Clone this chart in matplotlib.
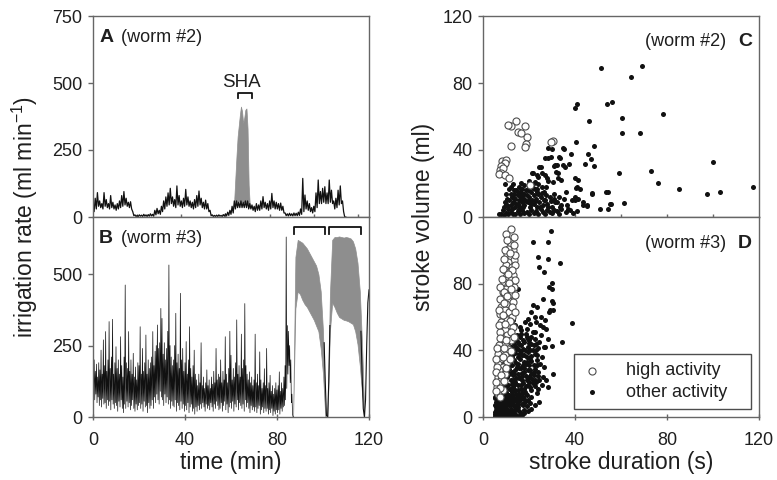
import numpy as np
import matplotlib
matplotlib.use('Agg')
from matplotlib import pyplot as plt

plt.rcParams['font.family'] = ['Liberation Sans', 'DejaVu Sans']
plt.rcParams['mathtext.fontset'] = 'custom'
plt.rcParams['mathtext.rm'] = 'Liberation Sans'
plt.rcParams['mathtext.it'] = 'Liberation Sans:italic'

# ---- A: worm #2, irrigation rate (ml/min), one value pair per minute
a_time = np.arange(0, 115, 1.0)
a_high = [40, 70, 91, 60, 50, 91, 65, 50, 80, 55,
          45, 50, 60, 80, 95, 70, 55, 57, 20, 8,
          6, 8, 7, 10, 8, 9, 12, 10, 25, 32,
          25, 40, 60, 75, 90, 107, 75, 65, 116, 80,
          60, 70, 103, 75, 60, 55, 65, 80, 97, 70,
          55, 63, 50, 25, 8, 6, 7, 8, 6, 9,
          12, 18, 25, 40, 60, 60, 55, 60, 55, 60,
          60, 50, 45, 40, 50, 45, 60, 76, 55, 50,
          60, 88, 60, 55, 50, 52, 40, 15, 12, 14,
          12, 15, 14, 18, 30, 144, 82, 60, 50, 35,
          40, 90, 138, 95, 107, 113, 90, 138, 100, 60,
          70, 100, 116, 60, 0]
a_low = [20, 30, 40, 35, 30, 40, 35, 30, 35, 30,
         25, 30, 35, 40, 45, 40, 35, 30, 5, 2,
         2, 3, 2, 3, 2, 3, 4, 3, 8, 12,
         10, 20, 30, 40, 45, 50, 40, 35, 45, 40,
         35, 40, 45, 40, 35, 30, 35, 40, 45, 35,
         30, 30, 20, 5, 2, 2, 2, 3, 2, 3,
         4, 6, 10, 15, 30, 35, 35, 35, 35, 35,
         30, 30, 25, 20, 25, 25, 30, 35, 30, 25,
         30, 35, 30, 30, 25, 25, 15, 5, 4, 5,
         4, 5, 5, 6, 10, 20, 30, 25, 20, 15,
         20, 35, 50, 50, 55, 50, 50, 55, 50, 30,
         35, 45, 50, 20, 0]
# SHA exposure (grey)
a_sha_time = [64, 64.5, 65, 65.5, 66, 66.5, 67, 67.5, 68, 68.5, 69, 69.5, 70, 70.5, 71]
a_sha_high = [70, 150, 230, 300, 340, 380, 412, 395, 350, 370, 400, 405, 330, 120, 45]
a_sha_low = [40, 45, 50, 55, 60, 60, 55, 60, 55, 55, 60, 55, 50, 40, 35]
sha_period = (65.7, 72.0)

# ---- B: worm #3, half-minute value pairs up to 87 min
b_time = np.arange(0, 87.5, 0.5)
b_high = [220, 200, 160, 185, 140, 190, 165, 234, 150, 270,
          180, 299, 160, 200, 334, 170, 210, 342, 150, 190,
          246, 170, 200, 150, 281, 180, 140, 210, 462, 190,
          170, 299, 160, 200, 150, 223, 140, 175, 130, 190,
          180, 316, 150, 240, 160, 190, 287, 150, 200, 170,
          190, 210, 299, 180, 230, 250, 322, 240, 260, 380,
          345, 220, 260, 200, 240, 300, 532, 250, 210, 180,
          200, 250, 363, 190, 220, 170, 433, 200, 240, 160,
          190, 264, 150, 200, 316, 170, 140, 180, 234, 150,
          130, 110, 150, 120, 260, 110, 140, 100, 120, 165,
          110, 130, 100, 140, 115, 160, 120, 240, 130, 150,
          140, 200, 120, 160, 130, 281, 150, 120, 170, 300,
          216, 130, 170, 140, 190, 340, 150, 180, 140, 290,
          170, 200, 397, 180, 150, 130, 158, 120, 140, 110,
          130, 290, 120, 150, 110, 228, 130, 100, 120, 169,
          110, 240, 100, 120, 146, 90, 110, 80, 100, 120,
          95, 110, 158, 90, 120, 100, 140, 180, 630, 320,
          300, 250, 200, 80, 0]
b_low = [90, 60, 80, 50, 70, 40, 60, 35, 65, 45,
         50, 30, 60, 40, 55, 25, 60, 45, 30, 50,
         40, 20, 55, 35, 60, 30, 15, 45, 30, 55,
         35, 50, 25, 40, 60, 30, 20, 45, 25, 40,
         50, 30, 45, 20, 55, 35, 40, 15, 50, 30,
         40, 60, 30, 70, 50, 80, 60, 45, 90, 70,
         60, 40, 80, 50, 70, 45, 60, 30, 55, 40,
         35, 60, 20, 50, 40, 25, 55, 30, 45, 20,
         40, 25, 50, 15, 35, 45, 20, 30, 10, 35,
         20, 40, 25, 45, 30, 50, 35, 20, 45, 30,
         40, 25, 50, 35, 20, 45, 30, 55, 40, 25,
         30, 50, 20, 40, 55, 25, 45, 15, 35, 50,
         30, 55, 20, 45, 35, 60, 25, 50, 40, 30,
         45, 20, 60, 35, 50, 30, 15, 40, 25, 35,
         20, 35, 15, 30, 40, 10, 25, 35, 15, 30,
         20, 30, 10, 25, 15, 30, 5, 20, 10, 25,
         15, 25, 10, 30, 20, 35, 40, 60, 100, 150,
         180, 120, 50, 10, 0]
# high activity bouts (grey envelopes)
b_hi1_time = np.arange(87, 102, 1.0)
b_hi1_top = [0, 560, 620, 615, 610, 600, 590, 575, 560, 545, 530, 500, 440, 300, 0]
b_hi1_bot = [0, 380, 440, 430, 410, 395, 385, 370, 355, 340, 320, 300, 240, 150, 0]
b_hi2_time = np.arange(102, 119, 1.0)
b_hi2_top = [0, 430, 620, 630, 630, 632, 630, 628, 630, 628, 625, 615, 590, 540, 440, 250, 0]
b_hi2_bot = [0, 300, 400, 385, 365, 350, 345, 340, 338, 335, 330, 325, 300, 255, 180, 80, 0]
b_gap_time = [100.5, 101, 101.5, 102, 102.5, 103]
b_gap_rate = [260, 120, 5, 0, 120, 320]
b_end_time = [116.5, 117, 117.5, 118, 118.5, 119, 119.5, 120]
b_end_rate = [300, 150, 30, 0, 60, 250, 400, 445]
high_periods = [(87.4, 100.7), (102.6, 116.4)]

# ---- C: worm #2 strokes (duration s, volume ml)
c_high = [(14.2, 57.3), (12.3, 54.5), (11, 55), (18.4, 54.5), (15.2, 50.5), (16.7, 50.3),
          (19.3, 48), (12.3, 42.4), (18.5, 43.5), (18.4, 41.6), (30.6, 45.6), (29.4, 45),
          (8.3, 33.6), (10.1, 34), (9.1, 31.8), (9.5, 32.5), (8.0, 30.5), (7.2, 28.1),
          (8.7, 29.1), (7.7, 26.1), (6.8, 25.5), (9.4, 25.1), (11.3, 23.1), (20.3, 19.1)]
c_other = [(51.2, 88.8), (64.2, 83.8), (69.3, 90.3), (41, 67.5), (40, 65), (54, 67.3),
           (56, 68.7), (46.2, 57.3), (60.3, 58.9), (78.4, 61.5), (60.3, 50), (68.3, 50),
           (48.3, 42.4), (40.3, 44.6), (45.5, 37.6), (47, 34.6), (44.3, 31.6), (48.3, 30.6),
           (38.3, 37.6), (37.5, 31.8), (59, 26), (73.2, 27.7), (76.3, 20.1), (85, 16.5),
           (97.2, 13.7), (103.2, 14.7), (100.1, 33), (117.2, 17.9), (61.3, 8.6), (55.2, 7.8),
           (54.2, 14.7), (47.2, 14.1), (54.5, 4.6), (45, 6.6), (43.6, 9.2), (40.3, 17.1),
           (41.2, 22.1), (40, 12), (38.6, 10), (36.4, 7.2), (33.5, 6.2), (35, 11), (31.3, 9),
           (32, 31), (33.2, 36), (34.9, 41), (28.4, 41), (29.7, 35.6), (30.7, 30.6),
           (32.8, 26), (30.3, 21), (27.7, 23), (24.5, 30), (25.5, 26), (23.3, 25), (21.2, 26),
           (27.4, 18), (25.5, 18), (23.3, 15), (21.9, 20), (35.2, 40.6), (30, 40.7),
           (26.8, 35.4), (28.3, 35.4), (33.3, 35.4), (25.4, 30), (31.2, 31), (34.8, 31),
           (35.5, 30), (31.9, 27), (21.7, 26), (23.9, 24), (26.8, 25), (28.3, 21.7),
           (32.6, 23), (34, 22), (39.9, 23), (40.7, 18), (42, 17), (39.9, 10), (41.3, 11),
           (43.5, 7), (45.4, 7.2), (47.5, 14), (53.6, 15), (55.5, 7.8), (50.7, 4.8),
           (7, 1.5), (8, 2), (9, 1), (10, 2.5), (11, 1.5), (12, 3), (13, 2), (14, 1.5),
           (15, 3.5), (16, 2), (17, 4), (18, 2.5), (19, 3), (20, 1.5), (21, 4), (22, 2.5),
           (23, 3.5), (24, 2), (25, 4.5), (26, 3), (27, 2), (28, 4), (29, 3), (30, 2.5),
           (31, 4), (32, 3.5), (33, 2), (34, 4.5), (36, 3), (38, 4), (39, 2.5), (41, 3.5),
           (9, 6), (10, 8), (11, 5), (11.5, 10), (12, 7), (12.5, 12), (13, 9), (13.5, 14),
           (14, 6), (14, 11), (14.5, 16), (15, 8), (15, 13), (15.5, 10), (16, 15), (16, 6),
           (16.5, 12), (17, 9), (17, 17), (17.5, 14), (18, 7), (18, 11), (18.5, 16),
           (19, 13), (19.5, 9), (20, 18), (20, 12), (20.5, 6), (21, 15), (21.5, 10), (22, 8),
           (22, 13), (22.5, 17), (23, 11), (23.5, 6), (24, 14), (24.5, 9), (25, 12), (26, 7),
           (26.5, 15), (27, 10), (28, 8), (29, 12), (30, 6), (31, 14), (32, 9), (33, 12),
           (34, 7), (36, 15), (37, 5), (9.5, 19.5), (13.3, 16), (16.4, 20.5), (12, 18),
           (10, 14),
           (8.5, 4), (9.5, 9), (10.5, 11), (11, 6.5), (12, 13.5), (12.8, 5), (13.6, 11.5),
           (14.4, 8), (15.2, 15), (15.8, 4.5), (16.8, 10.5), (17.4, 6), (18, 13.5), (18.8, 9.5),
           (19.4, 16), (20.2, 10), (21, 7.5), (21.8, 17.5), (22.8, 9.5), (23.6, 16.5),
           (24.6, 6), (25.5, 14.5), (26.4, 10), (27.4, 13), (28.4, 6), (29.6, 9.5), (30.8, 11),
           (13, 19.5), (17.8, 19), (19.8, 21.5), (22.4, 21), (11.2, 16.5), (15.6, 18),
           (24, 19.5)]

# ---- D: worm #3 strokes
d_high = [(12.3, 112.6), (11.6, 105), (12.3, 103), (13, 100), (11, 101), (10.5, 98), (12, 96),
          (13.5, 94), (11, 93), (10, 91), (12.5, 90), (9.5, 88), (11.5, 87), (13, 85), (10, 84),
          (12, 82), (9, 81), (11, 79), (13.5, 78), (10, 77), (8.5, 75), (12, 74), (9.5, 72),
          (11, 70), (13, 69), (10, 68), (8, 66), (9.5, 64), (11.5, 63), (7.5, 62), (12.5, 60),
          (9, 60), (10.5, 58), (8, 57), (11, 55), (13, 54), (9.5, 52), (7.5, 51), (10.5, 49),
          (8.5, 47), (12, 46), (9.5, 44), (7, 43), (11, 41), (8, 40), (6.5, 38), (9.5, 37),
          (7.5, 35), (10.5, 33), (6.5, 32), (8.5, 30), (7, 28), (9.5, 26), (6.5, 24), (8, 22),
          (7, 20), (6, 18), (8.5, 16), (6.5, 14),
          (9.8, 110), (13.3, 108), (10.3, 106), (13.6, 103), (9.6, 100), (13.9, 97), (9.2, 95),
          (11.8, 98.5), (14, 91), (8.8, 89), (12.8, 88), (10.8, 86), (8.3, 83), (13.8, 82),
          (11.5, 80.5), (7.6, 78), (12.2, 77), (9.2, 75), (13.9, 73), (7.6, 71), (10.5, 72.5),
          (12.6, 66), (9, 68.5), (7, 64), (13.8, 63), (8.5, 61.5), (11.8, 57.5), (6.8, 55),
          (9.5, 56), (12.2, 51), (7.2, 47.5), (10, 46.5), (13.3, 48), (6.2, 41.5), (9, 41.5),
          (12.2, 39.5), (5.8, 35), (8.5, 36), (11.8, 35), (6, 30), (9.8, 29.5), (5.6, 27),
          (8, 25.5), (5.8, 21), (9.2, 21.5), (7.5, 17.5), (5.6, 15.5), (7.2, 12)]
d_other = [(29.4, 111.6), (21.9, 104.8), (28.4, 104.8), (24.1, 96.2), (28.4, 94.6),
           (33.5, 92.2), (24.3, 89.8), (26.5, 87.2), (30.1, 80.6), (28.8, 77.8), (29.9, 76.6),
           (15.4, 76.6), (26.2, 70.6), (30, 69.8), (30.4, 68.2), (21.9, 67.2), (23.3, 66.2),
           (29.1, 64.2), (30.4, 64), (38.6, 56.6), (34.2, 44.8), (29.9, 42.6), (26.5, 42.2),
           (30.3, 25.6), (28.4, 18.2), (26.2, 24.2), (23.3, 14.2), (19.7, 10.2), (15.4, 4.2),
           (21, 63), (19.6, 59), (18.1, 57), (23.2, 57), (26.1, 54), (27.5, 53), (24.6, 55),
           (21.7, 51), (25.4, 49), (28.3, 47), (19.6, 47), (16.7, 50), (15.2, 45), (23.2, 44),
           (26.8, 42), (28.7, 63),
           (5, 2), (5.5, 4), (6, 1), (6.5, 3), (7, 5), (7.5, 2), (8, 4), (8.5, 1.5), (9, 3),
           (10, 2), (11, 4.5), (12, 1), (13, 3.5), (14, 2), (17, 1.5),
           (5, 7), (5.5, 9), (6, 6), (6.5, 8), (7, 10), (7.5, 7), (8, 9), (8.5, 6), (9, 8),
           (9.5, 10), (10, 6.5), (11, 9), (12, 7), (13, 9.5), (14, 6), (15, 8), (16, 10),
           (17.5, 7),
           (5, 12), (5.5, 14), (6, 11), (6.5, 13), (7, 15), (7.5, 12), (8, 14), (8.5, 11),
           (9, 13), (10, 15), (10.5, 11), (11.5, 13), (12.5, 15), (13.5, 11), (14.5, 14),
           (16, 12), (17, 14.5), (18, 11), (19, 13), (21, 12),
           (5.5, 17), (6, 19), (6.5, 16), (7, 18), (7.5, 20), (8, 16.5), (9, 19), (10, 17),
           (11, 19.5), (12, 16), (13, 18), (14, 20), (15, 16.5), (16.5, 19), (18, 17),
           (19.5, 19.5), (21, 16), (22.5, 18.5), (24, 17),
           (5.5, 22), (6, 24), (6.5, 21), (7.5, 23), (8.5, 25), (9.5, 21.5), (10.5, 24),
           (12, 22), (13, 25), (14, 21), (15.5, 23.5), (17, 22), (18.5, 24.5), (20, 21),
           (21.5, 23),
           (6, 27), (7, 29), (8, 26), (9, 28.5), (10, 26.5), (11.5, 29), (12.5, 27), (14, 28),
           (15, 26), (16.5, 29.5), (18, 27), (19.5, 28.5), (21, 26), (22.5, 29), (24, 27),
           (7, 32), (8.5, 34), (10, 31), (11, 33.5), (12.5, 31.5), (13.5, 34), (15, 32),
           (16, 35), (17.5, 31), (19, 33), (20.5, 35), (22, 31.5), (23.5, 34),
           (9, 37), (11, 39), (12.5, 36), (14, 38.5), (15, 36), (16.5, 39.5), (18, 37),
           (19.5, 39), (21, 36.5), (22.5, 38),
           (12, 42), (13.5, 44), (15, 41), (16.5, 43), (18, 45), (19.5, 42), (21, 44),
           (24, 41.5),
           (5.2, 3), (5.8, 6), (6.2, 9.5), (6.8, 12), (7.3, 3.5), (7.8, 10.5), (8.3, 7.5),
           (8.8, 13), (9.3, 4.5), (9.8, 12), (10.3, 9), (10.8, 3), (11.3, 7.5), (11.8, 11),
           (12.3, 5), (12.8, 12.5), (13.3, 7), (13.8, 4), (14.3, 9.5), (14.8, 12), (15.3, 6),
           (15.8, 10.5), (16.3, 3), (16.8, 8), (17.3, 12), (17.8, 4.5), (18.3, 9), (18.8, 14),
           (19.3, 6.5), (20.3, 8.5), (6.3, 26), (7.3, 34), (8.8, 38), (9.8, 41), (10.5, 36),
           (11.5, 45), (12.8, 48), (13.8, 40), (14.5, 46), (15.8, 38), (16.2, 48), (17.2, 41),
           (18.5, 50), (19.2, 36), (20.2, 46), (21.8, 40), (22.8, 47), (23.6, 37), (24.8, 32),
           (25.6, 36), (26.5, 30), (27.2, 22), (25.5, 19), (23, 21), (20.5, 28), (17.8, 33),
           (14.8, 30), (13.2, 22.5), (11.2, 26), (9.2, 23.5), (6.8, 37), (7.8, 44), (5.6, 29),
           (6.3, 33), (16.5, 52), (14, 55), (13, 58), (19, 53), (22.4, 51), (24.5, 45),
           (17, 24.5), (19, 22.5), (22, 25), (24.5, 22.5),
           (5.3, 0.8), (6.7, 0.5), (8.1, 0.8), (9.6, 1), (11.4, 0.7), (12.9, 1.2), (14.6, 0.8),
           (16, 1), (18, 2.2), (19.5, 3.5), (21, 5), (22.5, 7), (24.2, 9),
           (7.6, 15.8), (8.2, 19.3), (8.9, 21), (9.6, 16), (10.2, 19.2), (10.8, 13.5),
           (11.6, 17), (12.4, 20), (13, 13.5), (13.7, 16.5), (14.2, 23.5), (15.2, 19.5),
           (15.8, 14), (16.6, 17), (17.3, 20.5), (18.2, 15), (18.9, 18.5), (19.8, 24),
           (20.6, 18), (21.8, 20.5), (22.6, 22), (23.8, 24.5), (7.2, 25.5), (8.2, 30),
           (9.3, 32.5), (10.2, 28.5), (11.7, 31), (12.2, 34.5), (13.6, 26), (14.5, 32.5),
           (15.6, 29.5), (16.9, 26.5), (17.9, 29.5), (18.7, 32), (20, 31), (21, 33.5),
           (22.3, 27), (23.3, 31), (9.7, 35), (10.6, 38.5), (11.8, 36.5), (13.2, 38), (14.2, 42),
           (15.6, 44), (17.1, 37.5), (18.3, 40.5), (19.8, 44.5), (20.5, 40), (22, 43), (23, 40),
           (13, 46), (14.8, 49), (17.4, 46.5), (19, 48), (21, 48), (16, 54), (20.5, 56),
           (25, 60), (22.5, 60), (27, 58),
           (5.6, 1.5), (6.4, 4.8), (7.1, 7.2), (7.7, 0.8), (8.6, 3.2), (9.4, 6.2), (5.4, 11.5),
           (6.1, 14.2), (6.9, 16.8), (7.9, 12.8), (8.7, 9.6), (9.9, 4), (10.6, 0.9), (11.7, 2.5),
           (12.6, 9.2), (13.6, 1.8)]

black = '#111111'
grey = '#8e8e8e'
spine = '0.4'
txt = '0.12'


def zigzag(t, hi, lo, step):
    # alternate high and low values so the dense trace fills like the original record
    t = np.asarray(t, dtype=float)
    xs = np.column_stack([t, t + step / 2]).ravel()
    ys = np.column_stack([hi, lo]).ravel()
    return xs, ys


def style(ax):
    for s in ax.spines.values():
        s.set_color(spine)
        s.set_linewidth(1.0)
    ax.tick_params(axis='y', direction='out', length=3.5, width=1, color=spine,
                   labelsize=13, labelcolor=txt, pad=4)
    ax.tick_params(axis='x', direction='inout', length=5, width=1, color=spine,
                   labelsize=13, labelcolor=txt, pad=8)


fig = plt.figure(figsize=(7.77, 4.8), dpi=100)
axA = fig.add_axes([93 / 777, 1 - 217 / 480, 276 / 777, 201 / 480])
axB = fig.add_axes([93 / 777, 1 - 417 / 480, 276 / 777, 200 / 480])
axC = fig.add_axes([483 / 777, 1 - 217 / 480, 276 / 777, 201 / 480])
axD = fig.add_axes([483 / 777, 1 - 417 / 480, 276 / 777, 200 / 480])

# A
xs, ys = zigzag(a_time, a_high, a_low, 1.0)
axA.plot(xs, ys, color=black, lw=0.9)
axA.fill_between(a_sha_time, a_sha_low, a_sha_high, color=grey, lw=0.5, ec=grey)
x0, x1 = sha_period
axA.plot([x0, x0, x1, x1], [444, 463, 463, 444], color=black, lw=1.3)
axA.text((x0 + x1) / 2 - 1.5, 485, 'SHA', ha='center', va='baseline', fontsize=13.5, color=txt)
axA.set_xlim(0, 125)
axA.set_ylim(0, 750)
axA.set_yticks([0, 250, 500, 750])
axA.set_xticks(range(20, 121, 20))
axA.set_xticklabels([])
style(axA)
axA.text(0.022, 0.87, 'A', transform=axA.transAxes, fontsize=14, fontweight='bold', color=txt)
axA.text(0.10, 0.87, '(worm #2)', transform=axA.transAxes, fontsize=13, color=txt)

# B
xs, ys = zigzag(b_time, b_high, b_low, 0.5)
axB.plot(xs, ys, color=black, lw=0.5)
axB.fill_between(b_hi1_time, b_hi1_bot, b_hi1_top, color=grey, lw=0.5, ec=grey)
axB.fill_between(b_hi2_time, b_hi2_bot, b_hi2_top, color=grey, lw=0.5, ec=grey)
axB.plot(b_gap_time, b_gap_rate, color=black, lw=0.8)
axB.plot(b_end_time, b_end_rate, color=black, lw=0.8)
for p0, p1 in high_periods:
    axB.plot([p0, p0, p1, p1], [642, 665, 665, 642], color=black, lw=1.3)
axB.set_xlim(0, 120)
axB.set_ylim(0, 700)
axB.set_yticks([0, 250, 500])
axB.set_xticks([0, 40, 80, 120])
style(axB)
axB.text(0.022, 0.87, 'B', transform=axB.transAxes, fontsize=14, fontweight='bold', color=txt)
axB.text(0.10, 0.87, '(worm #3)', transform=axB.transAxes, fontsize=13, color=txt)
axB.set_xlabel('time (min)', fontsize=16.5, color=txt, labelpad=2)

# C
co = np.array(c_other)
ch = np.array(c_high)
axC.scatter(co[:, 0], co[:, 1], s=13, c=black, lw=0, zorder=2)
axC.scatter(ch[:, 0], ch[:, 1], s=26, facecolors='white', edgecolors='0.3', lw=0.8, zorder=3)
axC.set_xlim(0, 120)
axC.set_ylim(0, 120)
axC.set_yticks([0, 40, 80, 120])
axC.set_xticks(range(20, 101, 20))
axC.set_xticklabels([])
style(axC)
axC.text(0.88, 0.85, '(worm #2)', transform=axC.transAxes, ha='right', fontsize=13, color=txt)
axC.text(0.975, 0.85, 'C', transform=axC.transAxes, ha='right', fontsize=14,
         fontweight='bold', color=txt)

# D
do = np.array(d_other)
dh = np.array(d_high)
h_other = axD.scatter(do[:, 0], do[:, 1], s=13, c=black, lw=0, zorder=2)
h_high = axD.scatter(dh[:, 0], dh[:, 1], s=26, facecolors='white', edgecolors='0.3', lw=0.8,
                     zorder=3)
axD.set_xlim(0, 120)
axD.set_ylim(0, 120)
axD.set_yticks([0, 40, 80])
axD.set_xticks([0, 40, 80, 120])
style(axD)
axD.text(0.88, 0.845, '(worm #3)', transform=axD.transAxes, ha='right', fontsize=13, color=txt)
axD.text(0.975, 0.845, 'D', transform=axD.transAxes, ha='right', fontsize=14,
         fontweight='bold', color=txt)
axD.set_xlabel('stroke duration (s)', fontsize=16.5, color=txt, labelpad=2)
leg = axD.legend([h_high, h_other], ['high activity', 'other activity'], loc='lower left',
                 bbox_to_anchor=(0.33, 0.04, 0.641, 0.275), mode='expand', borderaxespad=0,
                 fancybox=False, edgecolor='0.3', fontsize=13, handlelength=1.1,
                 handletextpad=1.3, borderpad=0.45, labelspacing=0.25, framealpha=1)
leg.get_frame().set_linewidth(1.0)
for t in leg.get_texts():
    t.set_color(txt)

fig.text(25 / 777, 1 - 217 / 480, 'irrigation rate (ml min$^{-1}$)', rotation=90,
         ha='center', va='center', fontsize=16.5, color=txt)
fig.text(424 / 777, 1 - 217 / 480, 'stroke volume (ml)', rotation=90,
         ha='center', va='center', fontsize=16.5, color=txt)

fig.savefig('out.png', dpi=100)
